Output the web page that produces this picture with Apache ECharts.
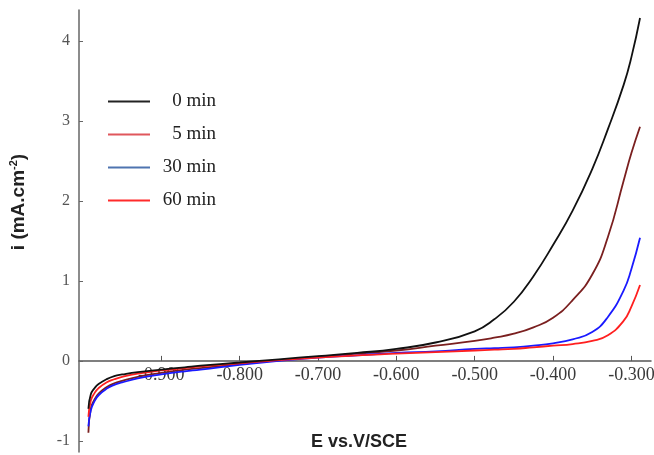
<!DOCTYPE html>
<html><head><meta charset="utf-8">
<script src="https://cdn.jsdelivr.net/npm/echarts@6/dist/echarts.min.js"></script>
<style>html,body{margin:0;padding:0;background:#fff}#c{width:654px;height:455px}</style>
</head><body><div id="c"></div>
<script>
// Potential E (V vs SCE)
const potential = [-0.993,-0.99,-0.985,-0.98,-0.97,-0.96,-0.95,-0.93,-0.9,-0.87,-0.85,-0.8,-0.75,-0.7,-0.65,-0.6,-0.55,-0.5,-0.475,-0.45,-0.425,-0.4,-0.375,-0.35,-0.33,-0.31,-0.3,-0.289];
// current density i (mA.cm-2)
const i0min  = [-0.6,-0.42,-0.34,-0.29,-0.23,-0.19,-0.17,-0.14,-0.11,-0.08,-0.06,-0.02,0.02,0.06,0.1,0.15,0.23,0.37,0.52,0.74,1.06,1.45,1.88,2.4,2.9,3.45,3.8,4.29];
const i5min  = [-0.9,-0.6,-0.48,-0.41,-0.33,-0.28,-0.25,-0.2,-0.15,-0.11,-0.09,-0.04,0.01,0.05,0.09,0.13,0.19,0.25,0.29,0.34,0.42,0.54,0.76,1.08,1.55,2.25,2.6,2.93];
const i30min = [-0.82,-0.62,-0.5,-0.43,-0.35,-0.3,-0.27,-0.22,-0.17,-0.13,-0.11,-0.05,0.0,0.04,0.07,0.1,0.12,0.15,0.16,0.17,0.19,0.22,0.27,0.36,0.55,0.88,1.15,1.54];
const i60min = [-0.7,-0.5,-0.4,-0.34,-0.27,-0.23,-0.2,-0.16,-0.12,-0.09,-0.07,-0.03,0.01,0.04,0.07,0.09,0.11,0.13,0.14,0.15,0.17,0.19,0.21,0.25,0.32,0.5,0.68,0.95];
const seriesNames = ['0 min','5 min','30 min','60 min'];
const xTicks = [-0.9,-0.8,-0.7,-0.6,-0.5,-0.4,-0.3];
const yTicks = [-1,0,1,2,3,4];

const values = [i0min, i5min, i30min, i60min];
const curveColors = ['#111111','#7a1f1f','#1a1aff','#ff1f1f'];
const legendColors = ['#222222','#e0575c','#4f74b0','#ff2b2b'];

const yMin = -1.14, yMax = 4.39, gridTop = 10, gridBottom = 3;
const plotH = 455 - gridTop - gridBottom;
const zeroOffset = -plotH * (0 - yMin) / (yMax - yMin); // lift x axis to i = 0

const chart = echarts.init(document.getElementById('c'));
const pairs = v => potential.map((e, k) => [e, v[k]]);
const order = [1,2,3,0];
chart.setOption({
  animation: false,
  grid: {left: 79, right: 3, top: gridTop, bottom: gridBottom, outerBoundsMode: 'none'},
  xAxis: {
    type: 'value', min: -1.005, max: -0.275, position: 'bottom', offset: zeroOffset,
    axisLine: {onZero: false, lineStyle: {color: '#555', width: 1.5}},
    axisTick: {inside: true, length: 5, customValues: xTicks, lineStyle: {color: '#555'}},
    axisLabel: {show: true, customValues: xTicks, formatter: v => Number(v).toFixed(3), fontFamily: 'Liberation Serif', fontSize: 18, color: '#3a3a3a', margin: 5},
    splitLine: {show: false}
  },
  yAxis: {
    type: 'value', min: yMin, max: yMax,
    axisLine: {show: true, onZero: false, lineStyle: {color: '#666', width: 1.5}},
    axisTick: {show: true, inside: true, length: 4, customValues: yTicks, lineStyle: {color: '#666'}},
    axisLabel: {customValues: yTicks, fontFamily: 'Liberation Serif', fontSize: 16, color: '#555', margin: 9},
    splitLine: {show: false}
  },
  legend: {
    orient: 'vertical', left: 108, top: 92, padding: 0, icon: 'rect', itemWidth: 42, itemHeight: 2, itemGap: 14,
    formatter: '{r|{name}}',
    textStyle: {fontFamily: 'Liberation Serif', fontSize: 19, color: '#222',
      rich: {r: {width: 61, align: 'right', fontFamily: 'Liberation Serif', fontSize: 19, color: '#222'}}},
    data: seriesNames.map((n, k) => ({name: n, itemStyle: {color: legendColors[k]}}))
  },
  graphic: [
    {type: 'text', x: 359, y: 442, style: {text: 'E vs.V/SCE', font: 'bold 18px "Liberation Sans"', fill: '#222', align: 'center', verticalAlign: 'middle'}},
    {type: 'text', x: 19, y: 202, rotation: Math.PI / 2,
     style: {text: '{a|i (mA.cm}{s|-2}{a|)}', align: 'center', verticalAlign: 'middle',
       rich: {a: {font: 'bold 19px "Liberation Sans"', fill: '#222'}, s: {font: 'bold 11px "Liberation Sans"', fill: '#222', verticalAlign: 'top', padding: [0,0,10,0]}}}}
  ],
  series: order.map(k => ({
    name: seriesNames[k], type: 'line', data: pairs(values[k]), showSymbol: false,
    smooth: 0.5,
    lineStyle: {color: curveColors[k], width: 1.8}, itemStyle: {color: curveColors[k]}
  }))
});
</script></body></html>
